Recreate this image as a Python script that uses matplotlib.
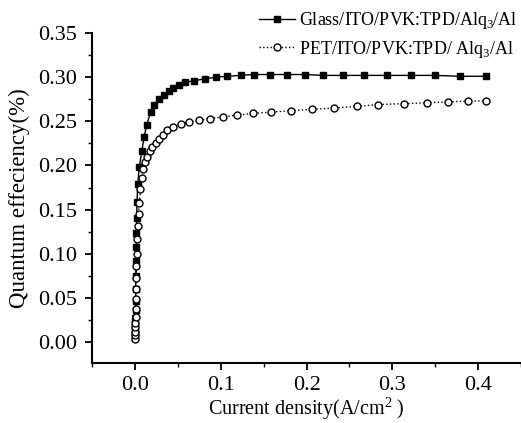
import matplotlib
matplotlib.use("Agg")
import matplotlib.pyplot as plt
from matplotlib.ticker import MultipleLocator

plt.rcParams['font.family'] = ['Liberation Serif', 'DejaVu Serif']
plt.rcParams['mathtext.fontset'] = 'custom'
plt.rcParams['mathtext.rm'] = 'Liberation Serif'

# current density (A/cm2) and quantum efficiency (%)
glass_j = [0, 0.0001, 0.0002, 0.0003, 0.0004, 0.0005, 0.0006, 0.0007, 0.0009, 0.0011,
           0.0013, 0.0015, 0.0018, 0.0022, 0.0031, 0.0048, 0.0078, 0.0105, 0.0135, 0.018,
           0.022, 0.028, 0.034, 0.0395, 0.0445, 0.051, 0.058, 0.069, 0.081, 0.094,
           0.107, 0.123, 0.139, 0.157, 0.177, 0.198, 0.219, 0.243, 0.267, 0.294,
           0.322, 0.350, 0.379, 0.409]
glass_qe = [0.005, 0.009, 0.014, 0.020, 0.027, 0.036, 0.047, 0.060, 0.075, 0.092,
            0.108, 0.124, 0.140, 0.159, 0.179, 0.198, 0.216, 0.232, 0.246, 0.260,
            0.269, 0.275, 0.280, 0.284, 0.288, 0.291, 0.294, 0.296, 0.298, 0.300,
            0.301, 0.302, 0.303, 0.303, 0.303, 0.303, 0.302, 0.302, 0.302, 0.302,
            0.302, 0.302, 0.301, 0.301]

pet_j = [0, 0.0001, 0.0002, 0.0003, 0.0004, 0.0005, 0.0006, 0.0008, 0.0010, 0.0012,
         0.0014, 0.0017, 0.0022, 0.0030, 0.0040, 0.0050, 0.0063, 0.0078, 0.0092, 0.0116,
         0.014, 0.017, 0.020, 0.024, 0.028, 0.032, 0.0375, 0.044, 0.053, 0.063,
         0.074, 0.087, 0.102, 0.119, 0.138, 0.159, 0.182, 0.206, 0.232, 0.259,
         0.283, 0.313, 0.340, 0.365, 0.388, 0.409]
pet_qe = [0.004, 0.008, 0.012, 0.017, 0.022, 0.028, 0.037, 0.049, 0.060, 0.073,
          0.086, 0.0995, 0.1165, 0.1315, 0.145, 0.158, 0.173, 0.186, 0.196, 0.204,
          0.210, 0.216, 0.221, 0.226, 0.230, 0.235, 0.240, 0.2435, 0.247, 0.249,
          0.251, 0.253, 0.255, 0.257, 0.259, 0.2605, 0.262, 0.2636, 0.265, 0.267,
          0.269, 0.270, 0.271, 0.272, 0.273, 0.273]

labels = ["Glass/ITO/PVK:TPD/Alq$_3$/Al", "PET/ITO/PVK:TPD/ Alq$_3$/Al"]

fig = plt.figure(figsize=(5.21, 4.23), dpi=100)
ax = fig.add_axes([0.177, 0.141, 0.823, 0.781])

ax.plot(glass_j, glass_qe, color="black", linestyle="-", linewidth=1.0,
        marker="s", markersize=4.5, markerfacecolor="black", label=labels[0])
ax.plot(pet_j, pet_qe, color="black", linestyle=":", linewidth=1.0,
        marker="o", markersize=5, markerfacecolor="white", label=labels[1])

ax.set_xlim(-0.05, 0.45)
ax.set_ylim(-0.024, 0.35)
ax.xaxis.set_major_locator(MultipleLocator(0.1))
ax.xaxis.set_minor_locator(MultipleLocator(0.05))
ax.yaxis.set_major_locator(MultipleLocator(0.05))
ax.yaxis.set_minor_locator(MultipleLocator(0.025))
ax.xaxis.set_major_formatter(plt.FormatStrFormatter("%.1f"))
ax.yaxis.set_major_formatter(plt.FormatStrFormatter("%.2f"))

for s in ["top", "right"]:
    ax.spines[s].set_visible(False)
for s in ["left", "bottom"]:
    ax.spines[s].set_linewidth(1.5)
ax.tick_params(which="major", direction="out", length=5, width=1.3, labelsize=16)
ax.tick_params(axis="y", which="major", pad=6)
ax.tick_params(axis="x", which="major", pad=4)
ax.tick_params(which="minor", direction="out", length=3, width=1.0)

ax.set_xlabel("Current density(A/cm$^2$ )", fontsize=14.5, labelpad=0.5)
ax.set_ylabel("Quantum effeciency(%)", fontsize=16.5, labelpad=6)

ax.legend(loc="upper right", bbox_to_anchor=(1.008, 1.09), frameon=False,
          fontsize=13, handlelength=2.0, handletextpad=0.2, labelspacing=0.4,
          borderaxespad=0)

fig.savefig("out.png", dpi=100)
